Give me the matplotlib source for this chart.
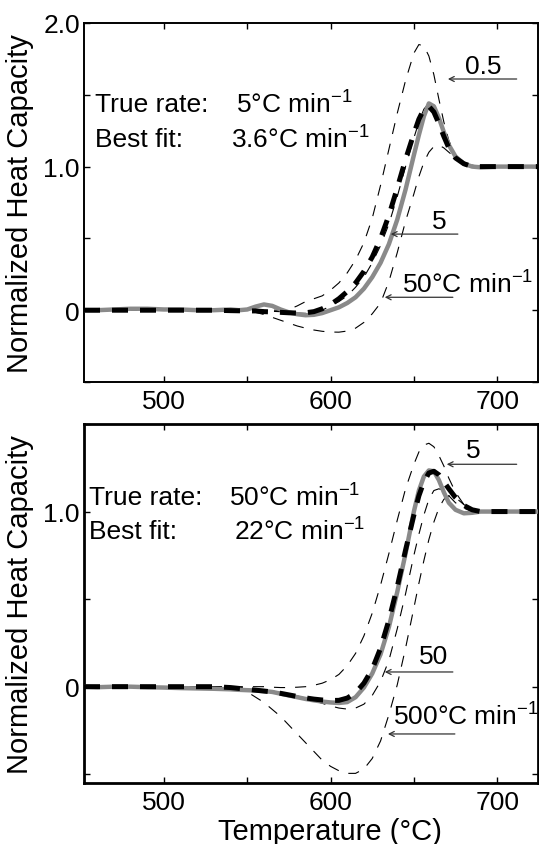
import matplotlib
matplotlib.use('Agg')
import matplotlib.pyplot as plt

plt.rcParams['font.family'] = ['Liberation Sans', 'DejaVu Sans']
plt.rcParams['mathtext.fontset'] = 'custom'
plt.rcParams['mathtext.rm'] = 'Liberation Sans'
plt.rcParams['mathtext.it'] = 'Liberation Sans:italic'

# temperature grid (deg C) shared by all curves
T = [452, 460, 470, 480, 490, 500, 510, 520, 530, 540, 545, 550, 555, 560, 565,
     570, 575, 580, 585, 590, 595, 600, 605, 610, 615, 620, 625, 630, 635, 640,
     645, 650, 653, 656, 659, 662, 665, 668, 671, 675, 680, 685, 690, 700, 710, 725]

# ---- top panel: true rate 5, best fit 3.6 ----
top_data = [0.0, 0.0, 0.005, 0.01, 0.01, 0.005, 0.005, 0.0, 0.0, 0.005, 0.0, 0.005, 0.025, 0.04, 0.03,
            0.005, -0.015, -0.028, -0.035, -0.032, -0.02, 0.0, 0.02, 0.05, 0.09, 0.15, 0.23, 0.33, 0.46, 0.63,
            0.84, 1.08, 1.22, 1.35, 1.44, 1.42, 1.34, 1.24, 1.15, 1.07, 1.02, 1.0, 0.995, 1.0, 1.0, 1.0]
top_fit = [0.0, 0.0, 0.0, 0.0, 0.0, 0.0, 0.0, 0.0, 0.0, -0.003, -0.004, -0.005, -0.005, -0.01, -0.012,
           -0.015, -0.018, -0.02, -0.018, -0.01, 0.01, 0.04, 0.08, 0.13, 0.19, 0.27, 0.37, 0.5, 0.66, 0.85,
           1.05, 1.23, 1.33, 1.4, 1.42, 1.38, 1.3, 1.21, 1.13, 1.06, 1.02, 1.0, 1.0, 1.0, 1.0, 1.0]
top_r05 = [0.0, 0.0, 0.0, 0.0, 0.0, 0.0, 0.0, 0.0, 0.0, 0.0, 0.0, 0.0, 0.0, 0.0, 0.0,
           0.0, 0.005, 0.03, 0.06, 0.08, 0.1, 0.14, 0.19, 0.26, 0.35, 0.47, 0.64, 0.87, 1.12, 1.37,
           1.6, 1.79, 1.85, 1.84, 1.77, 1.64, 1.47, 1.31, 1.18, 1.08, 1.03, 1.01, 1.0, 1.0, 1.0, 1.0]
top_r5 = [0.0, 0.0, 0.0, 0.0, 0.0, 0.0, 0.0, 0.0, 0.0, 0.0, 0.0, 0.0, -0.003, -0.005, -0.008,
          -0.01, -0.015, -0.02, -0.022, -0.02, 0.0, 0.03, 0.06, 0.1, 0.16, 0.23, 0.33, 0.45, 0.6, 0.79,
          1.0, 1.2, 1.31, 1.4, 1.44, 1.41, 1.33, 1.23, 1.14, 1.06, 1.02, 1.0, 1.0, 1.0, 1.0, 1.0]
top_r50 = [0.0, 0.0, 0.0, 0.0, 0.0, 0.0, 0.0, 0.0, 0.0, 0.0, 0.0, -0.005, -0.015, -0.03, -0.05,
           -0.07, -0.09, -0.11, -0.125, -0.138, -0.147, -0.152, -0.153, -0.145, -0.125, -0.085, -0.025, 0.05, 0.2, 0.4,
           0.62, 0.81, 0.93, 1.03, 1.1, 1.14, 1.15, 1.13, 1.1, 1.06, 1.02, 1.005, 1.0, 1.0, 1.0, 1.0]

# ---- bottom panel: true rate 50, best fit 22 ----
bot_data = [0.0, -0.003, 0.0, 0.0, -0.003, -0.005, -0.008, -0.01, -0.012, -0.015, -0.018, -0.02, -0.022, -0.025, -0.03,
            -0.04, -0.05, -0.06, -0.07, -0.078, -0.085, -0.09, -0.093, -0.088, -0.06, -0.005, 0.075, 0.185, 0.34, 0.54,
            0.76, 1.0, 1.12, 1.2, 1.235, 1.23, 1.18, 1.11, 1.05, 1.01, 0.99, 0.993, 1.0, 1.0, 1.0, 1.0]
bot_fit = [0.0, 0.0, 0.0, 0.0, 0.0, 0.0, 0.0, 0.0, 0.0, -0.005, -0.01, -0.015, -0.02, -0.025, -0.03,
           -0.038, -0.047, -0.056, -0.064, -0.071, -0.076, -0.079, -0.078, -0.065, -0.035, 0.02, 0.1, 0.22, 0.38, 0.57,
           0.78, 0.98, 1.09, 1.17, 1.22, 1.23, 1.21, 1.17, 1.13, 1.08, 1.035, 1.01, 1.0, 1.0, 1.0, 1.0]
bot_r5 = [0.0, 0.0, 0.0, 0.0, 0.0, 0.0, 0.0, 0.0, 0.0, 0.0, 0.0, 0.0, 0.0, 0.0, -0.003,
          -0.005, -0.005, -0.003, 0.0, 0.008, 0.02, 0.04, 0.07, 0.12, 0.19, 0.29, 0.42, 0.58, 0.76, 0.95,
          1.13, 1.27, 1.34, 1.38, 1.39, 1.37, 1.32, 1.26, 1.19, 1.11, 1.04, 1.01, 1.0, 1.0, 1.0, 1.0]
bot_r50 = [0.0, 0.0, 0.0, 0.0, 0.0, 0.0, 0.0, 0.0, 0.0, 0.0, -0.003, -0.007, -0.012, -0.018, -0.025,
           -0.033, -0.042, -0.053, -0.065, -0.08, -0.095, -0.11, -0.122, -0.128, -0.122, -0.1, -0.05, 0.03, 0.15, 0.33,
           0.53, 0.75, 0.87, 0.98, 1.07, 1.12, 1.13, 1.12, 1.09, 1.05, 1.02, 1.0, 1.0, 1.0, 1.0, 1.0]
bot_r500 = [0.0, 0.0, 0.0, 0.0, 0.0, 0.0, 0.0, 0.0, 0.0, -0.002, -0.01, -0.03, -0.06, -0.09, -0.13,
            -0.17, -0.22, -0.27, -0.32, -0.37, -0.42, -0.455, -0.48, -0.495, -0.495, -0.47, -0.41, -0.31, -0.16, 0.01,
            0.22, 0.45, 0.59, 0.72, 0.84, 0.94, 1.02, 1.07, 1.09, 1.08, 1.04, 1.01, 1.0, 1.0, 1.0, 1.0]

GRAY = '#8a8a8a'
W, H = 539, 845
fig = plt.figure(figsize=(W / 100, H / 100), dpi=100)
ax1 = fig.add_axes([84 / W, (H - 383) / H, 454 / W, 359 / H])
ax2 = fig.add_axes([84 / W, (H - 784) / H, 454 / W, 359 / H])


def draw(ax, data, fit, thin):
    for c in thin:
        ax.plot(T, c, color='k', lw=0.8, dashes=(10, 9), zorder=2)
    ax.plot(T, data, color=GRAY, lw=3.2, solid_capstyle='round', zorder=3)
    ax.plot(T, fit, color='k', lw=3.6, dashes=(3.2, 2.4), zorder=4)
    ax.set_xlim(452, 724.5)
    ax.set_xticks([500, 600, 700])
    ax.set_xticks([550, 650], minor=True)
    ax.tick_params(which='both', direction='in', top=True, right=True,
                   length=4, width=1, labelsize=19)
    ax.tick_params(axis='x', pad=5)
    ax.tick_params(axis='y', pad=3)
    ax.set_ylabel('Normalized Heat Capacity', fontsize=21)
    ax.yaxis.set_label_coords(-0.11, 0.5)


def arrow(ax, tip, tail, y):
    ax.annotate('', xy=(tip, y), xytext=(tail, y),
                arrowprops=dict(arrowstyle='->', color='#333333', lw=0.9,
                                shrinkA=0, shrinkB=0, mutation_scale=9))


draw(ax1, top_data, top_fit, [top_r05, top_r5, top_r50])
ax1.set_ylim(-0.5, 2.0)
ax1.set_yticks([0, 1, 2])
ax1.set_yticklabels(['0', '1.0', '2.0'])
ax1.set_yticks([-0.5, 0.5, 1.5], minor=True)
for s in ax1.spines.values():
    s.set_linewidth(1.4)
ax1.text(458.8, 1.435, 'True rate:', fontsize=19, va='center')
ax1.text(543.4, 1.435, '5°C min$^{-1}$', fontsize=19, va='center')
ax1.text(458.8, 1.19, 'Best fit:', fontsize=19, va='center')
ax1.text(540.4, 1.19, '3.6°C min$^{-1}$', fontsize=19, va='center')
ax1.text(691.4, 1.70, '0.5', fontsize=19, ha='center', va='center')
arrow(ax1, 670.4, 711.7, 1.61)
ax1.text(665.5, 0.62, '5', fontsize=19, ha='center', va='center')
arrow(ax1, 636.1, 676.4, 0.53)
ax1.text(642.6, 0.18, '50°C min$^{-1}$', fontsize=19, va='center')
arrow(ax1, 632.5, 673.4, 0.09)

draw(ax2, bot_data, bot_fit, [bot_r5, bot_r50, bot_r500])
ax2.set_ylim(-0.55, 1.5)
ax2.set_yticks([0, 1])
ax2.set_yticklabels(['0', '1.0'])
ax2.set_yticks([-0.5, 0.5, 1.5], minor=True)
for s in ax2.spines.values():
    s.set_linewidth(2.0)
ax2.text(455.0, 1.084, 'True rate:', fontsize=19, va='center')
ax2.text(539.0, 1.084, '50°C min$^{-1}$', fontsize=19, va='center')
ax2.text(455.0, 0.889, 'Best fit:', fontsize=19, va='center')
ax2.text(542.0, 0.889, '22°C min$^{-1}$', fontsize=19, va='center')
ax2.text(685.4, 1.35, '5', fontsize=19, ha='center', va='center')
arrow(ax2, 669.7, 711.7, 1.27)
ax2.text(662.0, 0.175, '50', fontsize=19, ha='center', va='center')
arrow(ax2, 632.5, 673.4, 0.084)
ax2.text(637.2, -0.167, '500°C min$^{-1}$', fontsize=19, va='center')
arrow(ax2, 634.4, 674.6, -0.27)
ax2.set_xlabel('Temperature (°C)', fontsize=21)
ax2.xaxis.set_label_coords(0.542, -0.095)

fig.savefig('out.png', dpi=100)
